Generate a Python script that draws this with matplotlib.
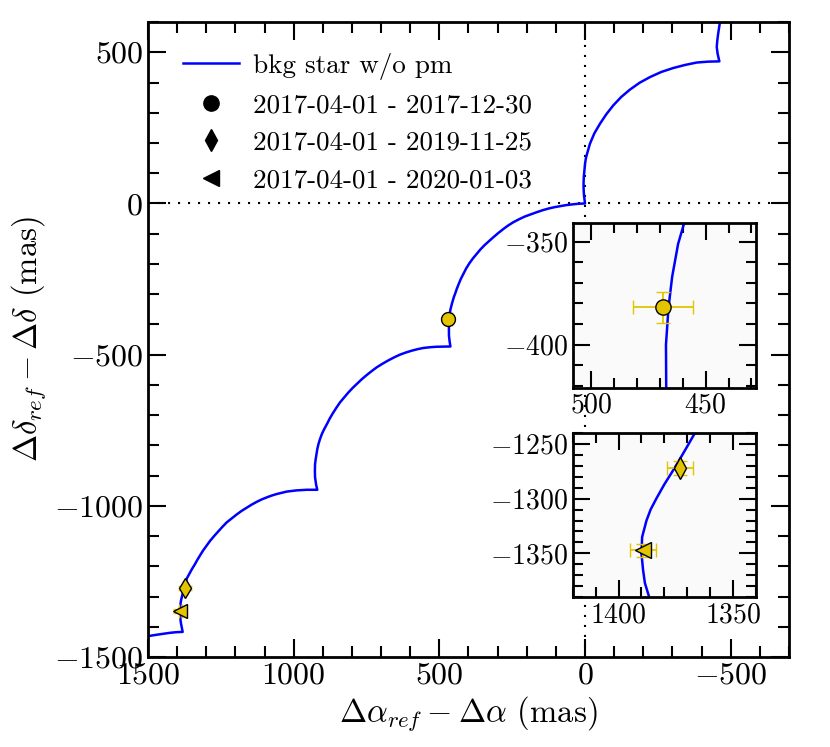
import matplotlib
matplotlib.use('Agg')
import matplotlib.pyplot as plt
from matplotlib.lines import Line2D
from matplotlib.ticker import MultipleLocator

plt.rcParams['font.family'] = 'serif'
plt.rcParams['font.serif'] = ['cmr10']
plt.rcParams['mathtext.fontset'] = 'cm'
plt.rcParams['axes.formatter.use_mathtext'] = True

# background star track (no proper motion)
track_ra = [1547, 1500, 1467, 1424, 1403, 1381,
            1383.5, 1386.6, 1388.5, 1389.3, 1390, 1389.7, 1387.8, 1386, 1383.5, 1380, 1375.5,
            1371, 1366.6, 1358, 1349, 1340, 1332.5, 1322, 1311, 1299, 1287, 1273, 1259, 1245,
            1230, 1213, 1196, 1179, 1161, 1144, 1127, 1110, 1092, 1075, 1058, 1041, 1024,
            1007, 990, 972, 955, 937, 919,
            923, 926.6, 927.2, 926.6, 924.5, 922, 919, 915, 909.5, 903, 895, 886, 876, 865,
            853, 841, 827, 813, 798.5, 783.5, 767, 750, 733, 715, 695, 675, 655, 635, 615,
            595, 575, 555, 532, 510, 486, 462,
            465, 467, 467.2, 467.3, 466.2, 464.6, 462, 459.4, 456.5, 453.5, 450, 446, 440,
            433, 426, 417.6, 408, 397, 385, 372, 359, 345, 330, 315, 298, 281, 264, 246,
            226, 206, 186, 166, 146, 126, 106, 86, 65, 43, 22, 0,
            3.5, 5, 5, 4, 2, 0, -3, -8, -17, -32, -51.5, -73, -97, -124, -154, -187, -223,
            -262, -303, -343, -383, -422, -461,
            -455, -452, -454, -457, -463, -470]
track_dec = [-1446, -1431, -1426, -1420, -1418, -1417,
             -1405, -1390, -1377, -1365, -1350, -1335, -1320, -1310, -1300, -1287, -1272,
             -1256, -1240, -1225, -1209, -1195, -1182, -1165, -1148, -1132, -1116, -1100, -1085, -1070,
             -1055, -1042, -1029, -1017, -1006, -996, -987, -979, -972, -966, -961, -957, -953,
             -951, -949, -948, -947, -947, -947,
             -930, -906, -885, -862, -846, -830, -813, -796, -779, -762, -746, -730, -711, -693,
             -675, -658, -642, -626, -611, -597, -582, -568, -555, -542, -530, -519, -509, -500, -493,
             -487, -482, -478, -475.5, -474, -473.5, -473,
             -455, -437, -420.6, -400, -382, -367, -351, -341, -330, -320, -309, -299, -282,
             -265, -249, -233, -215, -198, -182, -167, -152, -138, -125, -112, -98, -85, -73, -62,
             -52, -43, -36, -29, -22.5, -17, -12.5, -9, -5.5, -3, -1, 0,
             25, 50, 70, 90, 111, 131.5, 150, 168, 198, 232, 264, 295, 324.5, 352, 376.5, 399, 418,
             435, 448, 458, 466, 469, 470,
             495, 517.5, 540, 562, 600, 650]

# measured relative positions
labels = ['2017-04-01 - 2017-12-30', '2017-04-01 - 2019-11-25', '2017-04-01 - 2020-01-03']
markers = ['o', 'd', '<']
obs_ra = [468.7, 1373.2, 1389.3]
obs_dec = [-381.9, -1272.1, -1347.0]
obs_ra_err = [13.0, 5.7, 5.7]
obs_dec_err = [7.7, 6.0, 6.0]

gold = '#e3c400'

fig = plt.figure(figsize=(8.3, 7.47), dpi=100)
ax = fig.add_axes([0.1783, 0.1205, 0.7723, 0.85])


def style_axes(a, major, minor, mlen, nlen):
    a.tick_params(which='both', direction='in', top=True, right=True, width=1.5)
    a.tick_params(which='major', length=mlen)
    a.tick_params(which='minor', length=nlen)
    for s in a.spines.values():
        s.set_linewidth(2)
    a.xaxis.set_major_locator(MultipleLocator(major))
    a.xaxis.set_minor_locator(MultipleLocator(minor))
    a.yaxis.set_major_locator(MultipleLocator(major))
    a.yaxis.set_minor_locator(MultipleLocator(minor))


def draw(a, ms):
    a.plot(track_ra, track_dec, color='blue', lw=1.8, zorder=2)
    for i in range(3):
        a.errorbar(obs_ra[i], obs_dec[i], xerr=obs_ra_err[i], yerr=obs_dec_err[i],
                   fmt=markers[i], color=gold, mfc=gold, mec='k', mew=1.0, ms=ms,
                   ecolor=gold, elinewidth=1.3, capsize=5, capthick=1.3, zorder=3)


ax.axhline(0, color='k', ls=(0, (1, 3.8)), lw=1.5, zorder=1)
ax.axvline(0, color='k', ls=(0, (1, 3.8)), lw=1.5, zorder=1)
draw(ax, 10)
ax.set_xlim(1500, -700)
ax.set_ylim(-1500, 600)
style_axes(ax, 500, 100, 13, 8)
ax.tick_params(labelsize=23)
ax.set_xlabel(r'$\Delta\alpha_{ref} - \Delta\alpha$ (mas)', fontsize=23.5)
ax.set_ylabel(r'$\Delta\delta_{ref} - \Delta\delta$ (mas)', fontsize=23.5)

handles = [Line2D([], [], color='blue', lw=1.8, label='bkg star w/o pm')]
for i in range(3):
    handles.append(Line2D([], [], color='k', marker=markers[i], ls='none', ms=11, label=labels[i]))
ax.legend(handles=handles, loc='upper left', frameon=False, fontsize=19.5,
          handlelength=2.1, handletextpad=0.5, labelspacing=0.5,
          bbox_to_anchor=(0.016, 0.99))

# zoomed insets
ins1 = fig.add_axes([0.690, 0.481, 0.2209, 0.2201], facecolor='#fafafa')
draw(ins1, 11)
ins1.set_xlim(508, 428)
ins1.set_ylim(-421, -341)
style_axes(ins1, 50, 10, 12, 7)
ins1.tick_params(labelsize=20)

ins2 = fig.add_axes([0.690, 0.2004, 0.2209, 0.2203], facecolor='#fafafa')
draw(ins2, 11)
ins2.set_xlim(1420, 1340)
ins2.set_ylim(-1390, -1240)
style_axes(ins2, 50, 10, 12, 7)
ins2.tick_params(labelsize=20)

fig.savefig('out.png', dpi=100)
